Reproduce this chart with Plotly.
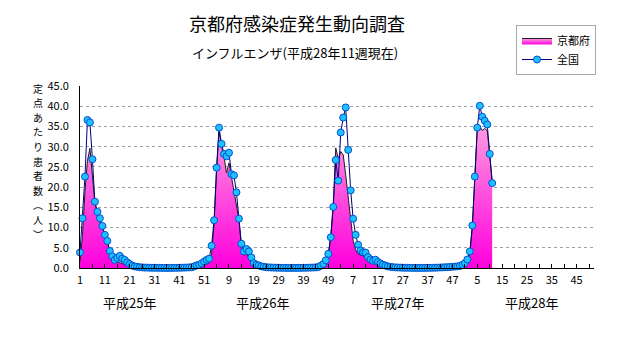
import plotly.graph_objects as go

# ---------------- data ----------------
year_labels = ["平成25年", "平成26年", "平成27年", "平成28年"]
weeks_per_year = [52, 52, 52, 52]

nat_h25 = [3.85, 12.3, 22.6, 36.6, 36.0, 26.9, 16.4, 13.9, 12.3, 10.4,
           8.2, 6.7, 4.2, 2.9, 2.0, 2.5, 3.0, 2.3, 2.0, 1.4,
           1.0, 0.6, 0.4, 0.3, 0.2, 0.15, 0.1, 0.1, 0.08, 0.06,
           0.05, 0.05, 0.04, 0.03, 0.03, 0.02, 0.02, 0.03, 0.04, 0.05,
           0.06, 0.08, 0.1, 0.12, 0.15, 0.2, 0.4, 0.65, 0.8, 1.15,
           1.6, 2.0]
nat_h26 = [2.3, 5.5, 11.8, 24.8, 34.7, 30.7, 28.2, 27.6, 28.5, 23.2,
           22.9, 18.7, 12.2, 6.0, 4.1, 4.7, 4.1, 2.6, 1.2, 0.8,
           0.65, 0.4, 0.3, 0.2, 0.15, 0.12, 0.1, 0.08, 0.06, 0.05,
           0.04, 0.03, 0.03, 0.02, 0.02, 0.03, 0.03, 0.04, 0.05, 0.06,
           0.08, 0.1, 0.12, 0.15, 0.25, 0.57, 1.0, 1.9, 3.5, 7.6,
           15.1, 26.7]
nat_h27 = [21.6, 33.5, 37.2, 39.7, 29.2, 19.2, 12.2, 8.2, 5.75, 4.35,
           3.9, 3.8, 2.7, 2.1, 1.8, 2.05, 1.5, 1.1, 0.8, 0.6,
           0.4, 0.3, 0.2, 0.15, 0.12, 0.1, 0.08, 0.06, 0.05, 0.04,
           0.03, 0.03, 0.02, 0.02, 0.03, 0.03, 0.04, 0.05, 0.06, 0.08,
           0.1, 0.12, 0.15, 0.18, 0.2, 0.25, 0.3, 0.35, 0.4, 0.5,
           0.8, 1.2]
nat_h28 = [2.1, 4.1, 10.5, 22.6, 34.7, 40.1, 37.4, 36.4, 35.5, 28.2, 21.0]

kyo_h25 = [1.5, 8.0, 19.0, 26.5, 29.6, 23.5, 16.0, 13.0, 11.5, 10.0,
           8.0, 6.5, 4.0, 2.5, 1.5, 1.5, 1.3, 1.0, 0.8, 0.6,
           0.4, 0.3, 0.2, 0.1, 0.05, 0.03, 0.02, 0.01, 0.0, 0.0,
           0.0, 0.0, 0.0, 0.0, 0.0, 0.0, 0.0, 0.0, 0.0, 0.0,
           0.0, 0.01, 0.02, 0.03, 0.05, 0.08, 0.1, 0.2, 0.3, 0.5,
           0.7, 0.9]
kyo_h26 = [1.2, 3.5, 11.0, 24.0, 34.0, 30.0, 27.5, 23.5, 26.0, 22.5,
           19.0, 15.5, 12.0, 5.0, 3.2, 3.5, 2.5, 1.5, 1.0, 0.6,
           0.4, 0.3, 0.2, 0.1, 0.05, 0.03, 0.02, 0.01, 0.0, 0.0,
           0.0, 0.0, 0.0, 0.0, 0.0, 0.0, 0.0, 0.0, 0.0, 0.0,
           0.01, 0.02, 0.05, 0.1, 0.2, 0.4, 0.8, 1.5, 3.0, 8.0,
           16.0, 29.7]
kyo_h27 = [27.0, 28.8, 28.0, 23.0, 18.0, 12.5, 6.8, 4.5, 3.5, 3.2,
           3.0, 2.5, 2.0, 1.6, 1.2, 1.0, 0.7, 0.5, 0.4, 0.3,
           0.2, 0.1, 0.05, 0.03, 0.02, 0.0, 0.0, 0.0, 0.0, 0.0,
           0.0, 0.0, 0.0, 0.0, 0.0, 0.0, 0.0, 0.0, 0.0, 0.0,
           0.0, 0.01, 0.02, 0.03, 0.05, 0.08, 0.1, 0.1, 0.1, 0.2,
           0.4, 0.8]
kyo_h28 = [1.5, 3.5, 10.0, 22.0, 34.5, 35.0, 34.0, 34.5, 34.0, 28.0, 21.5]

national = nat_h25 + nat_h26 + nat_h27 + nat_h28
kyoto = kyo_h25 + kyo_h26 + kyo_h27 + kyo_h28

# week number for every category on the axis
week_numbers = [w for n in weeks_per_year for w in range(1, n + 1)]
n_cat = len(week_numbers)
x_all = list(range(1, n_cat + 1))
x_data = x_all[:len(national)]

tick_positions = x_all[::10]
tick_text = [str(week_numbers[p - 1]) for p in tick_positions]

year_label_pos = [21, 74.5, 128.8, 183]

title_text = "京都府感染症発生動向調査"
subtitle_text = "インフルエンザ(平成28年11週現在)"
ytitle_chars = ["定", "点", "あ", "た", "り", "患", "者", "数", "︵", "人", "︶"]

JP = "Noto Sans CJK JP"

fig = go.Figure()
fig.add_trace(go.Scatter(
    x=x_data, y=kyoto, name="京都府", mode="lines",
    line=dict(color="#202020", width=1),
    fill="tozeroy",
    fillgradient=dict(type="vertical",
                      colorscale=[[0, "#ff00dd"], [1, "#ff9ee0"]],
                      start=0, stop=36),
    cliponaxis=False,
))
fig.add_trace(go.Scatter(
    x=x_data, y=national, name="全国", mode="lines+markers",
    line=dict(color="#000080", width=1),
    marker=dict(size=7, color="#1ec0ff", line=dict(color="#0050d0", width=1)),
    cliponaxis=False,
))

# plot-area geometry helpers (pixels)
L, R, T, B = 80, 37, 86, 79
W, H = 631, 347
pw, ph = W - L - R, H - T - B


def px_x(p):
    return (p - L) / pw


def px_y(p):
    return (H - B - p) / ph


annotations = [
    dict(text=title_text, x=px_x(297), y=px_y(23), xref="paper", yref="paper",
         showarrow=False, font=dict(family=JP, size=18, color="black"),
         xanchor="center", yanchor="middle"),
    dict(text=subtitle_text, x=px_x(295), y=px_y(52), xref="paper", yref="paper",
         showarrow=False, font=dict(family=JP, size=13, color="black"),
         xanchor="center", yanchor="middle"),
]
for k, ch in enumerate(ytitle_chars):
    annotations.append(dict(text=ch, x=px_x(38), y=px_y(88 + 14.6 * k),
                            xref="paper", yref="paper", showarrow=False,
                            font=dict(family=JP, size=10, color="black"),
                            xanchor="center", yanchor="middle", borderpad=0))
for pos, lab in zip(year_label_pos, year_labels):
    annotations.append(dict(text=lab, x=pos, y=px_y(302), xref="x", yref="paper",
                            showarrow=False,
                            font=dict(family=JP, size=13, color="black"),
                            xanchor="center", yanchor="middle"))

fig.update_layout(
    width=W, height=H,
    margin=dict(l=L, r=R, t=T, b=B),
    paper_bgcolor="white", plot_bgcolor="white",
    font=dict(family=JP, size=11, color="black"),
    showlegend=True,
    legend=dict(x=px_x(516), y=px_y(25), xanchor="left", yanchor="top",
                bordercolor="#a8a8a8", borderwidth=1, bgcolor="white",
                font=dict(family=JP, size=11, color="black"),
                itemwidth=30, tracegroupgap=0),
    annotations=annotations,
)
fig.update_xaxes(
    range=[1, n_cat], tickmode="array", tickvals=tick_positions, ticktext=tick_text,
    ticks="inside", ticklen=4, tickcolor="black", showline=True, linecolor="black",
    linewidth=1, showgrid=False, zeroline=False, ticklabelstandoff=2,
    minor=dict(tickmode="linear", tick0=1, dtick=5, ticks="inside", ticklen=4,
               tickcolor="black", showgrid=False),
    tickfont=dict(family=JP, size=11),
)
fig.update_yaxes(
    range=[0, 45], dtick=5, tick0=0, tickformat=".1f",
    showline=True, linecolor="black", linewidth=1, ticks="",
    showgrid=True, gridcolor="#a0a0a0", griddash="dot", gridwidth=1,
    zeroline=False, ticklabelstandoff=8, tickfont=dict(family=JP, size=11),
)

fig.write_html("out.html")
